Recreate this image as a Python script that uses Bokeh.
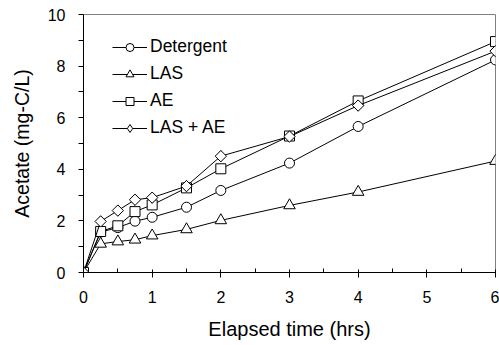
import numpy as np
from bokeh.plotting import figure
from bokeh.models import Range1d, FixedTicker, Legend, LegendItem
from bokeh.embed import file_html
from bokeh.resources import INLINE

time_hrs = [0, 0.25, 0.5, 0.75, 1, 1.5, 2, 3, 4, 6]
detergent = [0, 1.57, 1.74, 1.99, 2.14, 2.53, 3.18, 4.24, 5.66, 8.24]
las = [0, 1.11, 1.2, 1.27, 1.43, 1.67, 2.02, 2.6, 3.12, 4.32]
ae = [0, 1.59, 1.81, 2.36, 2.62, 3.28, 4.02, 5.29, 6.65, 8.95]
las_ae = [0, 1.98, 2.4, 2.82, 2.9, 3.35, 4.51, 5.27, 6.47, 8.58]

x_major = [0, 1, 2, 3, 4, 5, 6]
x_minor = [0.5, 1.5, 2.5, 3.5, 4.5, 5.5]
y_major = [0, 2, 4, 6, 8, 10]
y_minor = [1, 3, 5, 7, 9]

FONT = "Liberation Sans"

p = figure(width=499, height=345, output_backend="svg", toolbar_location=None,
           x_range=Range1d(0, 6), y_range=Range1d(0, 10),
           min_border_left=83, min_border_right=4, min_border_top=14, min_border_bottom=73)
p.xgrid.visible = False
p.ygrid.visible = False
p.outline_line_color = "#808080"
p.outline_line_width = 1
p.background_fill_color = "white"
p.border_fill_color = "white"

p.xaxis.ticker = FixedTicker(ticks=x_major, minor_ticks=x_minor)
p.yaxis.ticker = FixedTicker(ticks=y_major, minor_ticks=y_minor)

for ax in (p.xaxis[0], p.yaxis[0]):
    ax.axis_line_color = "black"
    ax.major_tick_line_color = "black"
    ax.minor_tick_line_color = "black"
    ax.major_label_text_font = FONT
    ax.major_label_text_font_size = "16px"
    ax.major_label_text_color = "black"
    ax.axis_label_text_font = FONT
    ax.axis_label_text_font_style = "normal"
    ax.axis_label_text_color = "black"

p.xaxis.axis_label = "Elapsed time (hrs)"
p.xaxis.axis_label_text_font_size = "20px"
p.xaxis.major_tick_in = 3
p.xaxis.major_tick_out = 5
p.xaxis.minor_tick_in = 4
p.xaxis.minor_tick_out = 0
p.xaxis.major_label_standoff = 13
p.xaxis.axis_label_standoff = 12

p.yaxis.axis_label = "Acetate (mg-C/L)"
p.yaxis.axis_label_text_font_size = "19.5px"
p.yaxis.major_tick_in = 0
p.yaxis.major_tick_out = 5
p.yaxis.minor_tick_in = 0
p.yaxis.minor_tick_out = 5
p.yaxis.major_label_standoff = 13
p.yaxis.axis_label_standoff = 12

series = [
    ("Detergent", detergent, "circle", 10, 0.0, None),
    ("LAS", las, "triangle", 11.5, 0.0, None),
    ("AE", ae, "square", 10, 0.0, None),
    ("LAS + AE", las_ae, "square", 8, np.pi / 4, ("diamond", 11)),
]

items = []
for label, vals, marker, size, angle, legend_marker in series:
    lr = p.line(time_hrs, vals, line_color="black", line_width=1)
    renderers = [lr]
    if legend_marker is not None:
        # diamond drawn underneath (fully covered by the rotated square); used for the legend glyph
        dr = p.scatter(time_hrs, vals, marker=legend_marker[0], size=legend_marker[1],
                       line_color="black", line_width=1, fill_color="white")
        renderers.append(dr)
    sr = p.scatter(time_hrs, vals, marker=marker, size=size, angle=angle,
                   line_color="black", line_width=1, fill_color="white")
    if legend_marker is None:
        renderers.append(sr)
    items.append(LegendItem(label=label, renderers=renderers))

legend = Legend(items=items, location=(29, 134), margin=0, padding=0,
                border_line_color=None, background_fill_alpha=0,
                glyph_width=35, glyph_height=20, label_height=20,
                spacing=6, label_standoff=3,
                label_text_font=FONT, label_text_font_size="17.5px",
                label_text_color="black")
p.add_layout(legend, "center")

open("out.html", "w").write(file_html(p, INLINE))
